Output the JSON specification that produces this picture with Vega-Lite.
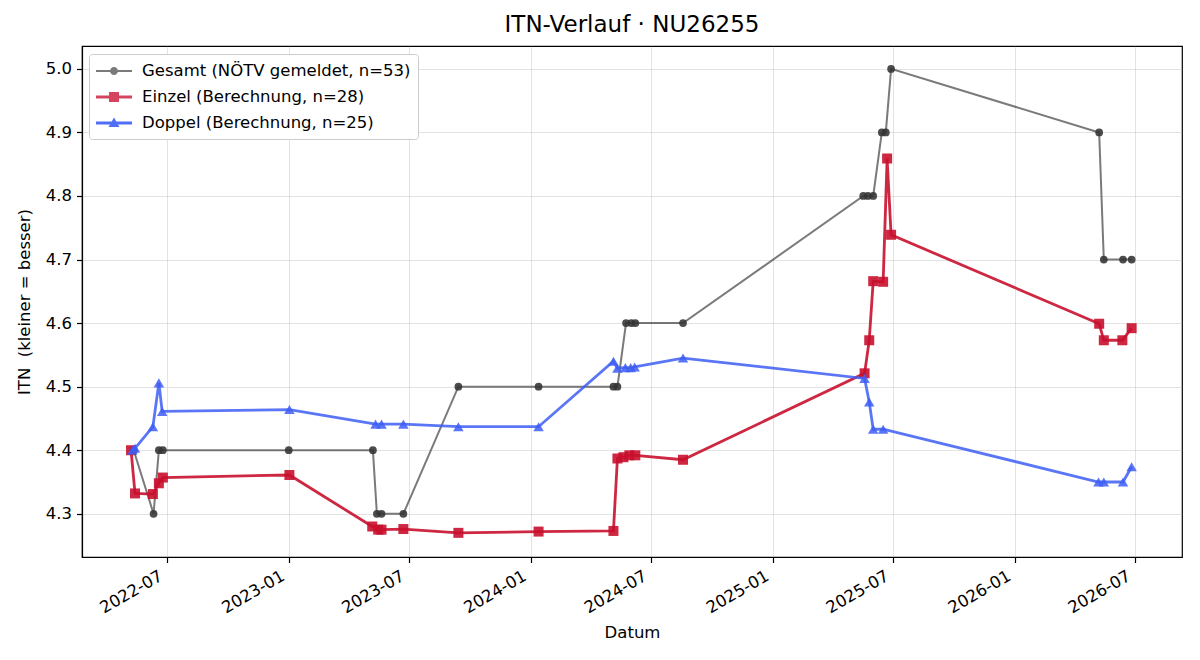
{
  "$schema": "https://vega.github.io/schema/vega-lite/v6.json",
  "width": 1100,
  "height": 511,
  "autosize": {"type": "none"},
  "padding": {"left": 82, "top": 46, "right": 18, "bottom": 103},
  "background": "white",
  "title": {"text": "ITN-Verlauf · NU26255", "fontSize": 23, "font": "DejaVu Sans", "fontWeight": "normal", "color": "black", "offset": 9},
  "config": {
    "font": "DejaVu Sans",
    "view": {"stroke": "black", "strokeWidth": 1.2},
    "axis": {
      "domainColor": "black", "domainWidth": 1.2,
      "tickColor": "black", "tickWidth": 1.2, "tickSize": 5.5,
      "labelColor": "black", "labelFont": "DejaVu Sans", "labelFontSize": 16.5,
      "titleColor": "black", "titleFont": "DejaVu Sans", "titleFontSize": 16.5, "titleFontWeight": "normal",
      "labelPadding": 5,
      "gridColor": "#b0b0b0", "gridOpacity": 0.35, "gridWidth": 1
    }
  },
  "data": {"values": [
    {"series": "Gesamt (NÖTV gemeldet, n=53)", "date": "2022-05-12", "itn": 4.4},
    {"series": "Gesamt (NÖTV gemeldet, n=53)", "date": "2022-06-11", "itn": 4.3},
    {"series": "Gesamt (NÖTV gemeldet, n=53)", "date": "2022-06-19", "itn": 4.4},
    {"series": "Gesamt (NÖTV gemeldet, n=53)", "date": "2022-06-25", "itn": 4.4},
    {"series": "Gesamt (NÖTV gemeldet, n=53)", "date": "2023-01-01", "itn": 4.4},
    {"series": "Gesamt (NÖTV gemeldet, n=53)", "date": "2023-05-08", "itn": 4.4},
    {"series": "Gesamt (NÖTV gemeldet, n=53)", "date": "2023-05-14", "itn": 4.3},
    {"series": "Gesamt (NÖTV gemeldet, n=53)", "date": "2023-05-21", "itn": 4.3},
    {"series": "Gesamt (NÖTV gemeldet, n=53)", "date": "2023-06-23", "itn": 4.3},
    {"series": "Gesamt (NÖTV gemeldet, n=53)", "date": "2023-09-14", "itn": 4.5},
    {"series": "Gesamt (NÖTV gemeldet, n=53)", "date": "2024-01-13", "itn": 4.5},
    {"series": "Gesamt (NÖTV gemeldet, n=53)", "date": "2024-05-05", "itn": 4.5},
    {"series": "Gesamt (NÖTV gemeldet, n=53)", "date": "2024-05-11", "itn": 4.5},
    {"series": "Gesamt (NÖTV gemeldet, n=53)", "date": "2024-05-24", "itn": 4.6},
    {"series": "Gesamt (NÖTV gemeldet, n=53)", "date": "2024-06-01", "itn": 4.6},
    {"series": "Gesamt (NÖTV gemeldet, n=53)", "date": "2024-06-07", "itn": 4.6},
    {"series": "Gesamt (NÖTV gemeldet, n=53)", "date": "2024-08-18", "itn": 4.6},
    {"series": "Gesamt (NÖTV gemeldet, n=53)", "date": "2025-05-17", "itn": 4.8},
    {"series": "Gesamt (NÖTV gemeldet, n=53)", "date": "2025-05-24", "itn": 4.8},
    {"series": "Gesamt (NÖTV gemeldet, n=53)", "date": "2025-06-01", "itn": 4.8},
    {"series": "Gesamt (NÖTV gemeldet, n=53)", "date": "2025-06-14", "itn": 4.9},
    {"series": "Gesamt (NÖTV gemeldet, n=53)", "date": "2025-06-20", "itn": 4.9},
    {"series": "Gesamt (NÖTV gemeldet, n=53)", "date": "2025-06-28", "itn": 5.0},
    {"series": "Gesamt (NÖTV gemeldet, n=53)", "date": "2026-05-08", "itn": 4.9},
    {"series": "Gesamt (NÖTV gemeldet, n=53)", "date": "2026-05-15", "itn": 4.7},
    {"series": "Gesamt (NÖTV gemeldet, n=53)", "date": "2026-06-13", "itn": 4.7},
    {"series": "Gesamt (NÖTV gemeldet, n=53)", "date": "2026-06-26", "itn": 4.7},
    {"series": "Einzel (Berechnung, n=28)", "date": "2022-05-08", "itn": 4.400},
    {"series": "Einzel (Berechnung, n=28)", "date": "2022-05-14", "itn": 4.332},
    {"series": "Einzel (Berechnung, n=28)", "date": "2022-06-10", "itn": 4.331},
    {"series": "Einzel (Berechnung, n=28)", "date": "2022-06-19", "itn": 4.348},
    {"series": "Einzel (Berechnung, n=28)", "date": "2022-06-25", "itn": 4.357},
    {"series": "Einzel (Berechnung, n=28)", "date": "2023-01-02", "itn": 4.361},
    {"series": "Einzel (Berechnung, n=28)", "date": "2023-05-07", "itn": 4.280},
    {"series": "Einzel (Berechnung, n=28)", "date": "2023-05-16", "itn": 4.275},
    {"series": "Einzel (Berechnung, n=28)", "date": "2023-05-21", "itn": 4.275},
    {"series": "Einzel (Berechnung, n=28)", "date": "2023-06-23", "itn": 4.276},
    {"series": "Einzel (Berechnung, n=28)", "date": "2023-09-14", "itn": 4.270},
    {"series": "Einzel (Berechnung, n=28)", "date": "2024-01-13", "itn": 4.272},
    {"series": "Einzel (Berechnung, n=28)", "date": "2024-05-05", "itn": 4.273},
    {"series": "Einzel (Berechnung, n=28)", "date": "2024-05-11", "itn": 4.387},
    {"series": "Einzel (Berechnung, n=28)", "date": "2024-05-20", "itn": 4.389},
    {"series": "Einzel (Berechnung, n=28)", "date": "2024-05-29", "itn": 4.392},
    {"series": "Einzel (Berechnung, n=28)", "date": "2024-06-07", "itn": 4.392},
    {"series": "Einzel (Berechnung, n=28)", "date": "2024-08-18", "itn": 4.385},
    {"series": "Einzel (Berechnung, n=28)", "date": "2025-05-19", "itn": 4.521},
    {"series": "Einzel (Berechnung, n=28)", "date": "2025-05-26", "itn": 4.573},
    {"series": "Einzel (Berechnung, n=28)", "date": "2025-06-01", "itn": 4.666},
    {"series": "Einzel (Berechnung, n=28)", "date": "2025-06-16", "itn": 4.665},
    {"series": "Einzel (Berechnung, n=28)", "date": "2025-06-22", "itn": 4.859},
    {"series": "Einzel (Berechnung, n=28)", "date": "2025-06-28", "itn": 4.739},
    {"series": "Einzel (Berechnung, n=28)", "date": "2026-05-08", "itn": 4.599},
    {"series": "Einzel (Berechnung, n=28)", "date": "2026-05-15", "itn": 4.573},
    {"series": "Einzel (Berechnung, n=28)", "date": "2026-06-12", "itn": 4.573},
    {"series": "Einzel (Berechnung, n=28)", "date": "2026-06-26", "itn": 4.592},
    {"series": "Doppel (Berechnung, n=25)", "date": "2022-05-10", "itn": 4.400},
    {"series": "Doppel (Berechnung, n=25)", "date": "2022-05-14", "itn": 4.403},
    {"series": "Doppel (Berechnung, n=25)", "date": "2022-06-10", "itn": 4.437},
    {"series": "Doppel (Berechnung, n=25)", "date": "2022-06-19", "itn": 4.506},
    {"series": "Doppel (Berechnung, n=25)", "date": "2022-06-24", "itn": 4.461},
    {"series": "Doppel (Berechnung, n=25)", "date": "2023-01-02", "itn": 4.464},
    {"series": "Doppel (Berechnung, n=25)", "date": "2023-05-12", "itn": 4.441},
    {"series": "Doppel (Berechnung, n=25)", "date": "2023-05-21", "itn": 4.441},
    {"series": "Doppel (Berechnung, n=25)", "date": "2023-06-23", "itn": 4.441},
    {"series": "Doppel (Berechnung, n=25)", "date": "2023-09-14", "itn": 4.437},
    {"series": "Doppel (Berechnung, n=25)", "date": "2024-01-13", "itn": 4.437},
    {"series": "Doppel (Berechnung, n=25)", "date": "2024-05-05", "itn": 4.540},
    {"series": "Doppel (Berechnung, n=25)", "date": "2024-05-11", "itn": 4.529},
    {"series": "Doppel (Berechnung, n=25)", "date": "2024-05-23", "itn": 4.530},
    {"series": "Doppel (Berechnung, n=25)", "date": "2024-05-31", "itn": 4.530},
    {"series": "Doppel (Berechnung, n=25)", "date": "2024-06-06", "itn": 4.531},
    {"series": "Doppel (Berechnung, n=25)", "date": "2024-08-18", "itn": 4.545},
    {"series": "Doppel (Berechnung, n=25)", "date": "2025-05-19", "itn": 4.513},
    {"series": "Doppel (Berechnung, n=25)", "date": "2025-05-26", "itn": 4.476},
    {"series": "Doppel (Berechnung, n=25)", "date": "2025-06-01", "itn": 4.433},
    {"series": "Doppel (Berechnung, n=25)", "date": "2025-06-16", "itn": 4.433},
    {"series": "Doppel (Berechnung, n=25)", "date": "2026-05-07", "itn": 4.350},
    {"series": "Doppel (Berechnung, n=25)", "date": "2026-05-15", "itn": 4.350},
    {"series": "Doppel (Berechnung, n=25)", "date": "2026-06-13", "itn": 4.350},
    {"series": "Doppel (Berechnung, n=25)", "date": "2026-06-26", "itn": 4.374}
  ]},
  "encoding": {
    "x": {
      "field": "date", "type": "temporal",
      "scale": {"type": "utc", "domain": [{"year": 2022, "month": 2, "date": 23, "utc": true}, {"year": 2026, "month": 9, "date": 10, "utc": true}]},
      "axis": {
        "title": "Datum", "titlePadding": 8,
        "values": [
          {"year": 2022, "month": 7, "date": 1, "utc": true},
          {"year": 2023, "month": 1, "date": 1, "utc": true},
          {"year": 2023, "month": 7, "date": 1, "utc": true},
          {"year": 2024, "month": 1, "date": 1, "utc": true},
          {"year": 2024, "month": 7, "date": 1, "utc": true},
          {"year": 2025, "month": 1, "date": 1, "utc": true},
          {"year": 2025, "month": 7, "date": 1, "utc": true},
          {"year": 2026, "month": 1, "date": 1, "utc": true},
          {"year": 2026, "month": 7, "date": 1, "utc": true}
        ],
        "labelExpr": "utcFormat(datum.value, '%Y-%m')",
        "labelAngle": -30, "labelAlign": "right", "labelBaseline": "top", "labelOffset": -10,
        "grid": true, "labelOverlap": false
      }
    },
    "y": {
      "field": "itn", "type": "quantitative",
      "scale": {"domain": [4.232, 5.036], "zero": false, "nice": false},
      "axis": {"title": "ITN\u00a0\u00a0(kleiner = besser)", "titlePadding": 13, "values": [4.3, 4.4, 4.5, 4.6, 4.7, 4.8, 4.9, 5.0], "format": ".1f", "grid": true}
    },
    "color": {
      "field": "series", "type": "nominal",
      "scale": {"domain": ["Gesamt (NÖTV gemeldet, n=53)", "Einzel (Berechnung, n=28)", "Doppel (Berechnung, n=25)"], "range": ["#333333", "#c8102e", "#3d5ef5"]},
      "legend": {
        "title": null, "orient": "none", "legendX": 7, "legendY": 8,
        "fillColor": "white", "strokeColor": "#cccccc", "cornerRadius": 3, "padding": 7,
        "labelFont": "DejaVu Sans", "labelFontSize": 16.5, "labelColor": "black", "labelLimit": 400,
        "symbolSize": 400, "labelOffset": 26, "rowPadding": 7, "symbolStrokeWidth": 0
      }
    }
  },
  "layer": [
    {
      "transform": [{"filter": "false"}],
      "mark": {"type": "point", "filled": true},
      "encoding": {
        "shape": {"field": "series", "type": "nominal", "scale": {"domain": ["Gesamt (NÖTV gemeldet, n=53)", "Einzel (Berechnung, n=28)", "Doppel (Berechnung, n=25)"], "range": [
          "M-1,-0.1H2.6V0.1H-1Z M1.2,0A0.4,0.4 0 1,1 0.4,0A0.4,0.4 0 1,1 1.2,0Z",
          "M-1,-0.14H2.6V0.14H-1Z M0.3,-0.5H1.3V0.5H0.3Z",
          "M-1,-0.14H2.6V0.14H-1Z M0.8,-0.55L1.35,0.4H0.25Z"
        ]}},
        "opacity": {"field": "series", "type": "nominal", "scale": {"domain": ["Gesamt (NÖTV gemeldet, n=53)", "Einzel (Berechnung, n=28)", "Doppel (Berechnung, n=25)"], "range": [0.65, 0.9, 0.85]}}
      }
    },
    {
      "transform": [{"filter": "datum.series === 'Gesamt (NÖTV gemeldet, n=53)'"}],
      "mark": {"type": "line", "strokeWidth": 2, "opacity": 0.65},
      "encoding": {}
    },
    {
      "transform": [{"filter": "datum.series === 'Gesamt (NÖTV gemeldet, n=53)'"}],
      "mark": {"type": "point", "filled": true, "shape": "circle", "size": 60, "opacity": 0.88},
      "encoding": {}
    },
    {
      "transform": [{"filter": "datum.series === 'Einzel (Berechnung, n=28)'"}],
      "mark": {"type": "line", "strokeWidth": 2.8, "opacity": 0.9},
      "encoding": {}
    },
    {
      "transform": [{"filter": "datum.series === 'Einzel (Berechnung, n=28)'"}],
      "mark": {"type": "point", "filled": true, "shape": "square", "size": 100, "opacity": 0.9},
      "encoding": {}
    },
    {
      "transform": [{"filter": "datum.series === 'Doppel (Berechnung, n=25)'"}],
      "mark": {"type": "line", "strokeWidth": 2.8, "opacity": 0.85},
      "encoding": {}
    },
    {
      "transform": [{"filter": "datum.series === 'Doppel (Berechnung, n=25)'"}],
      "mark": {"type": "point", "filled": true, "shape": "triangle-up", "size": 110, "opacity": 0.85},
      "encoding": {}
    }
  ]
}
